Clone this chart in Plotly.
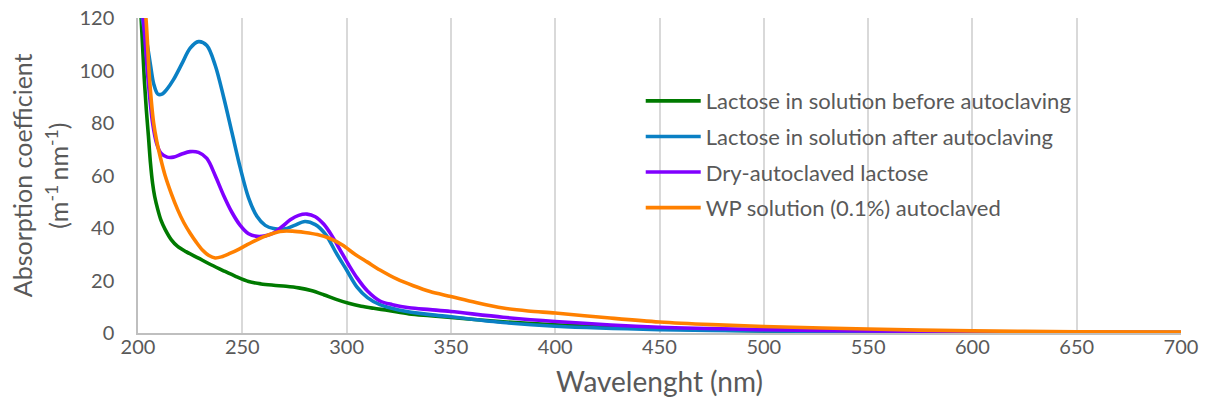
import plotly.graph_objects as go

# Lactose in solution before autoclaving
wl_before = [200, 201.5, 203, 204, 205, 206, 207, 208, 209.5, 211, 213, 216, 219, 223, 229, 235, 241,
             247, 253, 259, 265, 271, 277, 283, 289, 295, 301, 307, 313, 320, 330, 340, 350, 375, 400,
             450, 500, 550, 600, 650, 700]
abs_before = [140, 120, 97, 85, 75, 64.5, 57, 52, 47, 43, 39.5, 35.5, 33, 31, 28.5, 26, 23.7,
              21.5, 19.6, 18.7, 18.2, 17.8, 17.2, 16.2, 14.6, 12.8, 11.3, 10.2, 9.4, 8.6, 7.3, 6.6, 5.9, 4.3, 3.1,
              1.6, 0.8, 0.5, 0.3, 0.2, 0.15]

# Lactose in solution after autoclaving
wl_after = [200, 202, 204, 206, 207.5, 209.5, 211.5, 214, 217, 221, 225, 229, 233, 237, 241, 245,
            249, 253, 257, 261, 265, 270, 275, 280, 285, 290, 295, 300, 305, 310, 316, 325, 340, 350,
            375, 400, 450, 500, 550, 600, 650, 700]
abs_after = [140, 120, 112, 102, 95, 91, 91, 93, 96.5, 102.5, 108.5, 111, 109.5, 102, 90, 76.5,
             63, 51.5, 44.5, 41, 39.8, 39.6, 41, 42.5, 41.3, 37.5, 30.5, 24, 17.5, 13.5, 10.8, 8.8, 7, 6.2,
             4.0, 2.6, 1.3, 0.8, 0.5, 0.3, 0.2, 0.15]

# Dry-autoclaved lactose
wl_dry = [200, 202.5, 205, 207, 209, 211, 214, 217, 221, 225, 229, 233, 237, 241, 245, 249, 253,
          257, 261, 265, 269, 273, 277, 281, 285, 289, 293, 297, 301, 305, 310, 316, 322, 330, 340,
          350, 375, 400, 450, 500, 550, 600, 650, 700]
abs_dry = [140, 120, 95, 80, 72, 68.5, 67, 67, 68.2, 69.1, 68.8, 66.5, 60, 52.5, 46, 41, 37.8,
           36.8, 37, 38.1, 40.5, 43.1, 44.8, 45.3, 44.3, 41.5, 37, 31.5, 26, 21, 16, 12.2, 10.8, 9.6, 8.9,
           8.2, 6, 4.4, 2.2, 1.3, 0.8, 0.5, 0.3, 0.2]

# WP solution (0.1%) autoclaved
wl_wp = [200, 203.8, 205.5, 207.5, 209, 211, 213, 216, 219, 222, 225, 228, 231, 234, 237, 240, 244,
         248, 252, 257, 262, 268, 274, 280, 286, 292, 298, 304, 310, 316, 324, 332, 340, 350, 362,
         375, 387, 400, 425, 450, 475, 500, 550, 600, 650, 700]
abs_wp = [150, 120, 97, 80, 73, 66, 60, 53, 47, 42, 38, 34.5, 31.5, 29.5, 28.6, 29, 30.3,
          31.8, 33.5, 35.5, 37.2, 38.7, 38.8, 38.3, 37.5, 36, 33.5, 30, 27, 24, 20.6, 18, 15.8, 13.9, 11.6,
          9.5, 8.4, 7.6, 5.8, 4.2, 3.2, 2.5, 1.5, 0.8, 0.5, 0.4]

x_ticks = [200, 250, 300, 350, 400, 450, 500, 550, 600, 650, 700]
y_ticks = [0, 20, 40, 60, 80, 100, 120]

series = [
    ("Lactose in solution before autoclaving", wl_before, abs_before, "#007A00"),
    ("Lactose in solution after autoclaving", wl_after, abs_after, "#0A80C4"),
    ("Dry-autoclaved lactose", wl_dry, abs_dry, "#8000FF"),
    ("WP solution (0.1%) autoclaved", wl_wp, abs_wp, "#FF8000"),
]

FONT = "Lato"
TXT = "#595959"

fig = go.Figure()
for i, (name, xs, ys, col) in enumerate(series):
    fig.add_trace(go.Scatter(x=xs, y=ys, mode="lines", name=name, legendgroup=f"g{i}",
                             line=dict(color=col, width=3.6, shape="spline", smoothing=0.9)))

fig.update_layout(
    width=1206, height=410,
    margin=dict(l=138, r=25, t=18, b=77, autoexpand=False),
    plot_bgcolor="white", paper_bgcolor="white",
    font=dict(family=FONT, color=TXT, size=20),
    legend=dict(x=0.482, y=0.803, xanchor="left", yanchor="top", bgcolor="rgba(0,0,0,0)",
                font=dict(size=22, family=FONT, color=TXT), tracegroupgap=4, itemwidth=55),
    showlegend=True,
)
fig.update_xaxes(range=[200, 700], tickvals=x_ticks, ticktext=[str(v) for v in x_ticks],
                 showgrid=True, gridcolor="#D9D9D9", gridwidth=1.5, automargin=False,
                 showline=True, linecolor="#BFBFBF", linewidth=1.5, zeroline=False,
                 ticks="", ticklabelstandoff=-5, tickfont=dict(size=20, family=FONT, color=TXT),
                 title=dict(text="Wavelenght (nm)", font=dict(size=28, family=FONT, color=TXT), standoff=16))
fig.update_yaxes(range=[0, 120], tickvals=y_ticks, ticktext=[str(v) for v in y_ticks],
                 showgrid=False, showline=True, linecolor="#BFBFBF", linewidth=1.5, zeroline=False,
                 automargin=False,
                 ticks="", ticklabelstandoff=18, tickfont=dict(size=20, family=FONT, color=TXT))

# Two-line y-axis title, lines placed individually to match the reference spacing
y_title_lines = ["Absorption coefficient", "(m<sup>-1 </sup>nm<sup>-1</sup>)"]
for txt, xp in zip(y_title_lines, [-0.1115, -0.0775]):
    fig.add_annotation(text=txt, xref="paper", yref="paper", x=xp, y=0.5,
                       xanchor="center", yanchor="middle", textangle=-90, showarrow=False,
                       font=dict(size=25, family=FONT, color=TXT))

fig.write_html("out.html")
